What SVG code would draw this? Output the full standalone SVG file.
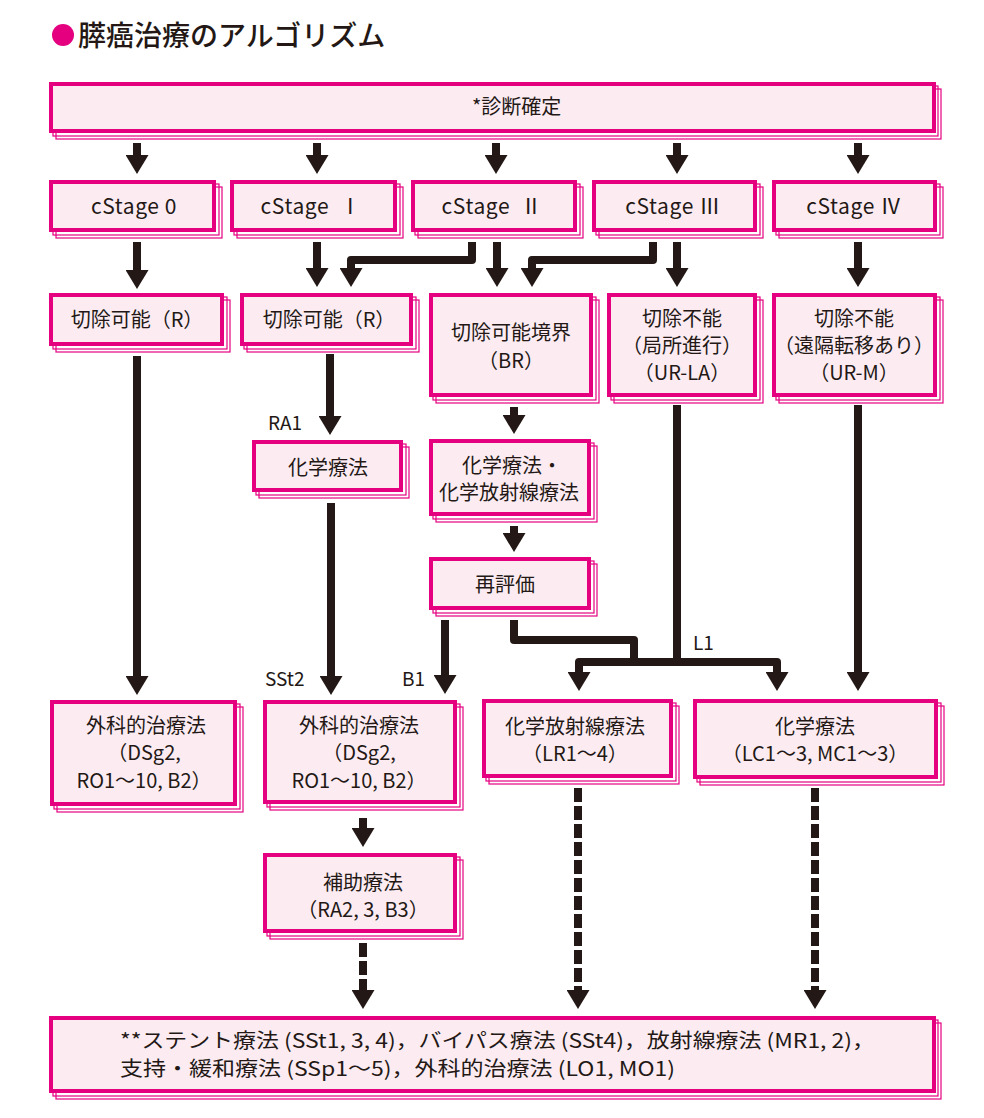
<svg xmlns="http://www.w3.org/2000/svg" width="984" height="1118" viewBox="0 0 984 1118">
<style>
text{font-family:"Noto Sans CJK JP","Noto Sans",sans-serif;fill:#231815}
.t{font-size:20px;text-anchor:middle}
.st{font-size:21px;text-anchor:middle;letter-spacing:0.6px}
.lb{font-size:19px}
.m{fill:#fcecf2;stroke:#e4007f;stroke-width:4}
.s{fill:none;stroke:#e4007f;stroke-width:1.2}
.c{fill:none;stroke:#231815;stroke-width:8;stroke-linejoin:round}
.a{marker-end:url(#ah)}
.d{stroke-dasharray:14 4}
</style>
<defs>
<marker id="ah" markerUnits="userSpaceOnUse" markerWidth="19" markerHeight="23" viewBox="0 -11.5 19 23" refX="1" refY="0" orient="auto-start-reverse">
<path d="M0,-11.5 L19,0 L0,11.5 Z" fill="#231815"/>
</marker>
</defs>
<rect width="984" height="1118" fill="#fff"/>
<g id="title">
<circle cx="63" cy="35" r="11" fill="#e4007f"/>
<text x="78" y="46" style="font-size:28px;font-weight:500">膵癌治療のアルゴリズム</text>
</g>

<g id="connectors">
<path class="c a" d="M137,143 V156"/>
<path class="c a" d="M317,143 V156"/>
<path class="c a" d="M496,143 V156"/>
<path class="c a" d="M677,143 V156"/>
<path class="c a" d="M858,143 V156"/>

<path class="c a" d="M137,242 V271"/>
<path class="c a" d="M317,242 V269"/>
<path class="c a" d="M472,242 V260 H351 V269"/>
<path class="c a" d="M497,242 V269"/>
<path class="c a" d="M653,242 V260 H532 V269"/>
<path class="c a" d="M677,242 V269"/>
<path class="c a" d="M858,242 V269"/>

<path class="c a" d="M137,356 V677"/>
<path class="c a" d="M330,354 V417"/>
<path class="c a" d="M331,503 V677"/>
<path class="c a" d="M514,407 V416"/>
<path class="c a" d="M514,526 V534"/>
<path class="c a" d="M445,620 V676"/>
<path class="c" d="M514,620 V640 H634 V662"/>
<path class="c" d="M677,405 V662"/>
<path class="c" d="M579,673 V662 H777 V673" style="marker-start:url(#ah);marker-end:url(#ah)"/>
<path class="c a" d="M858,405 V673"/>

<path class="c a" d="M363,818 V829"/>
<path class="c d a" d="M363,943 V991"/>
<path class="c d a" d="M578,788 V991"/>
<path class="c d a" d="M815,788 V991"/>
</g>

<g id="labels">
<text class="lb" x="268" y="430">RA1</text>
<text class="lb" x="265" y="686">SSt2</text>
<text class="lb" x="402" y="686">B1</text>
<text class="lb" x="693" y="650">L1</text>
</g>

<g id="n-diag">
<rect class="s" x="56" y="89" width="885" height="50"/><rect class="s" x="53" y="86" width="885" height="50"/>
<rect class="m" x="51" y="84" width="883" height="47"/>
<text x="472" y="114" style="font-size:20px">*診断確定</text>
</g>

<g id="n-s0">
<rect class="s" x="56" y="187" width="166" height="51"/><rect class="s" x="53" y="184" width="166" height="51"/>
<rect class="m" x="51" y="182" width="163" height="48"/>
<text class="st" x="134" y="214">cStage&#160;0</text>
</g>
<g id="n-s1">
<rect class="s" x="237" y="187" width="166" height="51"/><rect class="s" x="234" y="184" width="166" height="51"/>
<rect class="m" x="232" y="182" width="163" height="48"/>
<text class="st" x="311" y="214">cStage&#160;&#160;Ⅰ</text>
</g>
<g id="n-s2">
<rect class="s" x="418" y="187" width="165" height="51"/><rect class="s" x="415" y="184" width="165" height="51"/>
<rect class="m" x="413" y="182" width="162" height="48"/>
<text class="st" x="492" y="214">cStage&#160;&#160;Ⅱ</text>
</g>
<g id="n-s3">
<rect class="s" x="599" y="187" width="164" height="51"/><rect class="s" x="596" y="184" width="164" height="51"/>
<rect class="m" x="594" y="182" width="161" height="48"/>
<text class="st" x="673" y="214">cStage&#160;Ⅲ</text>
</g>
<g id="n-s4">
<rect class="s" x="779" y="187" width="164" height="51"/><rect class="s" x="776" y="184" width="164" height="51"/>
<rect class="m" x="774" y="182" width="161" height="48"/>
<text class="st" x="854" y="214">cStage&#160;Ⅳ</text>
</g>

<g id="n-r1">
<rect class="s" x="56" y="300" width="174" height="52"/><rect class="s" x="53" y="297" width="174" height="52"/>
<rect class="m" x="51" y="295" width="171" height="49"/>
<text class="t" x="137" y="327">切除可能（R）</text>
</g>
<g id="n-r2">
<rect class="s" x="247" y="300" width="172" height="52"/><rect class="s" x="244" y="297" width="172" height="52"/>
<rect class="m" x="242" y="295" width="169" height="49"/>
<text class="t" x="329" y="327">切除可能（R）</text>
</g>
<g id="n-br">
<rect class="s" x="436" y="300" width="163" height="103"/><rect class="s" x="433" y="297" width="163" height="103"/>
<rect class="m" x="431" y="295" width="160" height="100"/>
<text class="t" x="511" y="340">切除可能境界</text>
<text class="t" x="511" y="368">（BR）</text>
</g>
<g id="n-ula">
<rect class="s" x="614" y="300" width="149" height="103"/><rect class="s" x="611" y="297" width="149" height="103"/>
<rect class="m" x="609" y="295" width="146" height="100"/>
<text class="t" x="682" y="326">切除不能</text>
<text class="t" x="682" y="353">（局所進行）</text>
<text class="t" x="682" y="380">（UR-LA）</text>
</g>
<g id="n-urm">
<rect class="s" x="779" y="300" width="164" height="103"/><rect class="s" x="776" y="297" width="164" height="103"/>
<rect class="m" x="774" y="295" width="161" height="100"/>
<text class="t" x="854" y="326">切除不能</text>
<text class="t" x="854" y="353">（遠隔転移あり）</text>
<text class="t" x="854" y="380">（UR-M）</text>
</g>

<g id="n-chemo1">
<rect class="s" x="259" y="447" width="150" height="51"/><rect class="s" x="256" y="444" width="150" height="51"/>
<rect class="m" x="254" y="442" width="147" height="48"/>
<text class="t" x="328" y="475">化学療法</text>
</g>
<g id="n-chemo2">
<rect class="s" x="436" y="446" width="161" height="76"/><rect class="s" x="433" y="443" width="161" height="76"/>
<rect class="m" x="431" y="441" width="158" height="73"/>
<text class="t" x="512" y="473">化学療法・</text>
<text class="t" x="509" y="500">化学放射線療法</text>
</g>
<g id="n-reval">
<rect class="s" x="436" y="564" width="161" height="52"/><rect class="s" x="433" y="561" width="161" height="52"/>
<rect class="m" x="431" y="559" width="158" height="49"/>
<text class="t" x="505" y="592">再評価</text>
</g>

<g id="n-surg1">
<rect class="s" x="57" y="707" width="186" height="105"/><rect class="s" x="54" y="704" width="186" height="105"/>
<rect class="m" x="52" y="702" width="183" height="102"/>
<text class="t" x="146" y="733">外科的治療法</text>
<text class="t" x="144" y="760">（DSg2,</text>
<text class="t" x="144" y="788">RO1～10, B2）</text>
</g>
<g id="n-surg2">
<rect class="s" x="270" y="707" width="193" height="103"/><rect class="s" x="267" y="704" width="193" height="103"/>
<rect class="m" x="265" y="702" width="190" height="100"/>
<text class="t" x="359" y="733">外科的治療法</text>
<text class="t" x="359" y="760">（DSg2,</text>
<text class="t" x="359" y="788">RO1～10, B2）</text>
</g>
<g id="n-crt">
<rect class="s" x="489" y="706" width="190" height="78"/><rect class="s" x="486" y="703" width="190" height="78"/>
<rect class="m" x="484" y="701" width="187" height="75"/>
<text class="t" x="575" y="734">化学放射線療法</text>
<text class="t" x="575" y="761">（LR1～4）</text>
</g>
<g id="n-chemo3">
<rect class="s" x="700" y="706" width="244" height="79"/><rect class="s" x="697" y="703" width="244" height="79"/>
<rect class="m" x="695" y="701" width="241" height="76"/>
<text class="t" x="815" y="734">化学療法</text>
<text class="t" x="815" y="761">（LC1～3, MC1～3）</text>
</g>
<g id="n-adj">
<rect class="s" x="270" y="860" width="193" height="79"/><rect class="s" x="267" y="857" width="193" height="79"/>
<rect class="m" x="265" y="855" width="190" height="76"/>
<text class="t" x="363" y="890">補助療法</text>
<text class="t" x="363" y="917">（RA2, 3, B3）</text>
</g>

<g id="n-bottom">
<rect class="s" x="56" y="1023" width="885" height="76"/><rect class="s" x="53" y="1020" width="885" height="76"/>
<rect class="m" x="51" y="1018" width="883" height="73"/>
<text x="120" y="1048" style="font-size:20px" textLength="755" lengthAdjust="spacingAndGlyphs">**ステント療法 (SSt1, 3, 4)，バイパス療法 (SSt4)，放射線療法 (MR1, 2)，</text>
<text x="120" y="1076" style="font-size:20px" textLength="555" lengthAdjust="spacingAndGlyphs">支持・緩和療法 (SSp1～5)，外科的治療法 (LO1, MO1)</text>
</g>
</svg>
